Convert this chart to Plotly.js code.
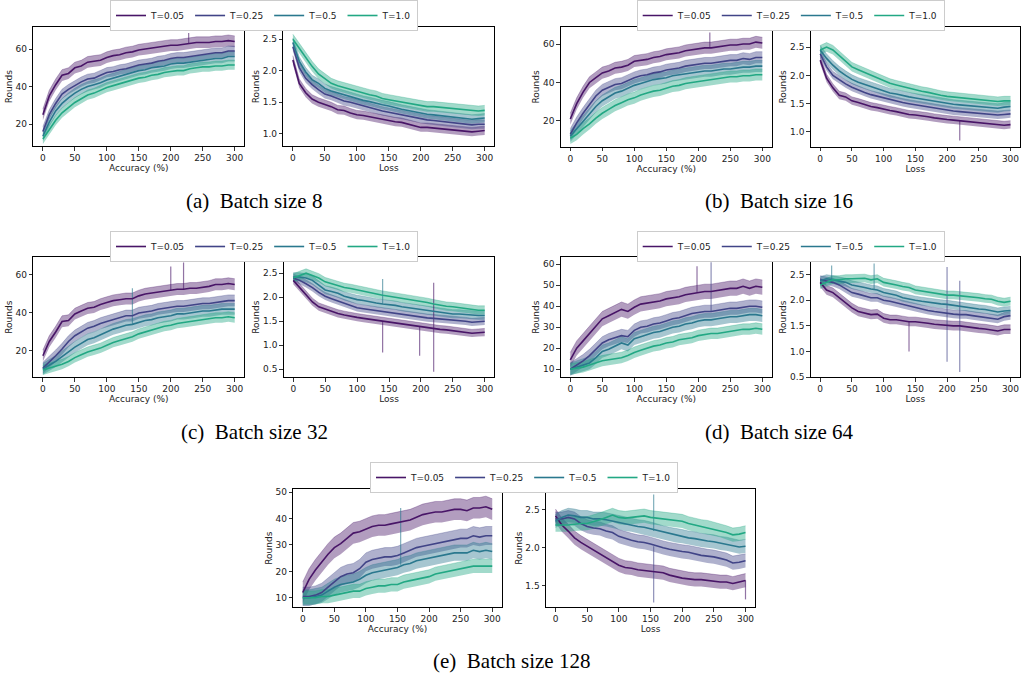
<!DOCTYPE html>
<html><head><meta charset="utf-8">
<script src="https://cdn.plot.ly/plotly-3.0.1.min.js"></script>
<style>html,body{margin:0;padding:0;background:#fff}#chart{width:1021px;height:676px}</style>
</head><body><div id="chart"></div>
<script>
const rounds = [0,10,20,30,40,50,60,70,80,90,100,110,120,130,140,150,160,170,180,190,200,210,220,230,240,250,260,270,280,290,300];
const seriesNames = ['T=0.05','T=0.25','T=0.5','T=1.0'];
const seriesColors = ['#481567','#414487','#2A788E','#22A884'];
const captions = ['(a)\u00a0 Batch size 8','(b)\u00a0 Batch size 16','(c)\u00a0 Batch size 32','(d)\u00a0 Batch size 64','(e)\u00a0 Batch size 128'];
const xTitleLeft = 'Accuracy (%)';
const xTitleRight = 'Loss';
const yTitle = 'Rounds';

// ---- Batch size 8 ----
const acc8 = [
 [25,35,41,46,47,50,51,53,53.5,54,55.5,56.5,57,58,58.5,59.5,60,60.5,61,61.5,62,62,62.5,63,63.5,63.5,63.5,64,64,64.5,64],
 [16,25,31,36,38.5,40.5,42.5,44,44.5,46,47.5,48,49,49.5,50.5,51.5,52,52.5,53.5,54,55,55.5,55.5,56,56.5,57,57.5,58,58,59,59],
 [13.5,21,27,31,34,36.5,38.5,40,41,42,43.5,44.5,45.5,46.5,47.5,48.5,49,50,50.5,51,52,52.5,52.5,53,53.5,54,54.5,55,55,56,56],
 [12,17,22,26,29,31.5,33.5,35.5,36.5,38,39.5,40.5,41.5,42.5,43.5,44.5,45,46,46.5,47.5,48,48.5,48.5,49.5,50,50.5,50.5,51,51,51.5,51.5]];
const acc8Spread = [3, 2.6, 2.6, 2.6];
const acc8Spikes = [[228,68.5,0]];
const loss8 = [
 [2.17,1.80,1.65,1.55,1.50,1.47,1.43,1.38,1.37,1.33,1.30,1.29,1.27,1.25,1.22,1.20,1.19,1.18,1.15,1.13,1.10,1.10,1.09,1.08,1.07,1.06,1.06,1.05,1.03,1.04,1.05],
 [2.38,2.05,1.88,1.78,1.70,1.63,1.60,1.56,1.52,1.50,1.47,1.44,1.42,1.39,1.36,1.34,1.32,1.30,1.28,1.25,1.23,1.22,1.21,1.20,1.19,1.18,1.17,1.16,1.14,1.15,1.15],
 [2.45,2.15,1.98,1.86,1.80,1.72,1.68,1.65,1.61,1.59,1.55,1.53,1.51,1.48,1.46,1.44,1.41,1.39,1.37,1.35,1.32,1.31,1.30,1.29,1.28,1.27,1.26,1.25,1.23,1.24,1.25],
 [2.50,2.35,2.20,2.07,1.95,1.87,1.80,1.76,1.73,1.71,1.68,1.65,1.62,1.60,1.56,1.54,1.52,1.50,1.48,1.46,1.44,1.43,1.43,1.42,1.41,1.40,1.39,1.38,1.37,1.36,1.37]];
const loss8Spread = [0.07, 0.07, 0.07, 0.08];
const loss8Spikes = [];

// ---- Batch size 16 ----
const acc16 = [
 [21,29,35,40,42.5,45,46,47.5,48,49,51,51.5,52,53,53.5,54.5,55,55.5,56.5,57,57.5,58,58,58.5,59,59.5,59.5,60,60,61,60.5],
 [13,19,24,28.5,33,36,37.5,39,39.5,41,42.5,43.5,44,45,45.5,46.5,47,47.5,48.5,49,49.5,50,50,50.5,51,51.5,51.5,52.5,52,53,53],
 [12,16,20,24,27.5,30.5,32.5,34.5,35.5,37,38.5,39.5,40.5,41.5,42,42.5,43.5,44,44.5,45,45.5,46,46,46.5,47,47,47.5,48,48,48.5,48.5],
 [11,13,16,18.5,21.5,24,26,28,29.5,31,32,33.5,34.5,35.5,36,37,38,38.5,39.5,40,40.5,41,41.5,42,42.5,43,43,43.5,43.5,44,44]];
const acc16Spread = [3, 3, 3, 3];
const acc16Spikes = [[218,66,0]];
const loss16 = [
 [2.27,1.95,1.78,1.65,1.62,1.55,1.52,1.48,1.45,1.43,1.40,1.38,1.36,1.33,1.31,1.30,1.29,1.27,1.25,1.23,1.22,1.21,1.20,1.19,1.18,1.17,1.16,1.15,1.13,1.12,1.13],
 [2.38,2.15,2.00,1.92,1.85,1.79,1.74,1.70,1.66,1.63,1.60,1.57,1.55,1.52,1.50,1.48,1.46,1.44,1.42,1.40,1.38,1.37,1.36,1.35,1.34,1.33,1.33,1.32,1.30,1.31,1.32],
 [2.45,2.30,2.18,2.08,2.00,1.93,1.88,1.84,1.80,1.76,1.72,1.69,1.67,1.64,1.62,1.60,1.58,1.56,1.54,1.52,1.50,1.49,1.48,1.47,1.46,1.45,1.45,1.44,1.42,1.44,1.45],
 [2.45,2.50,2.45,2.35,2.25,2.15,2.10,2.05,2.00,1.95,1.90,1.86,1.83,1.80,1.77,1.75,1.72,1.70,1.67,1.65,1.63,1.62,1.61,1.60,1.59,1.58,1.57,1.56,1.54,1.55,1.55]];
const loss16Spread = [0.07, 0.07, 0.08, 0.08];
const loss16Spikes = [[220,0.85,0]];

// ---- Batch size 32 ----
const acc32 = [
 [17.5,25,30,35.5,36,39.5,41,42.5,43,44.5,45.5,46.5,47,47.5,47.5,49,50,50.5,51,51.5,52,52.5,52.5,53,53,53.5,54,55,55,55.5,55],
 [11,14,17.5,21,25,28,30,32,33,34.5,35.5,36.5,37.5,38.5,38.5,40,40.5,41,42,42.5,43,43.5,43.5,44,44.5,45,45,45.5,46,46.5,46.5],
 [10.5,12.5,14.5,17,19.5,22,24,26,27,28.5,30,31.5,32.5,33.5,34,35,36,36.5,37.5,38,38.5,39.5,39.5,40,40.5,41,41,41.5,42,42,42],
 [10,11,12,13,14.5,16.5,18,19.5,20.5,21.5,23,24.5,25.5,26.5,27.5,29,30,31,32,33,33.5,34.5,35,35.5,36,36.5,37,37.5,37.5,38,37.5]];
const acc32Spread = [3, 3, 3, 2.6];
const acc32Spikes = [[200,64.5,0],[220,66.5,0],[140,53,2]];
const loss32 = [
 [2.35,2.20,2.05,1.90,1.80,1.75,1.70,1.66,1.63,1.60,1.58,1.56,1.54,1.52,1.50,1.48,1.47,1.45,1.43,1.41,1.38,1.37,1.35,1.33,1.32,1.30,1.29,1.27,1.25,1.26,1.27],
 [2.40,2.35,2.28,2.20,2.10,2.02,1.97,1.92,1.88,1.82,1.78,1.76,1.74,1.72,1.70,1.68,1.66,1.64,1.62,1.60,1.58,1.57,1.56,1.55,1.53,1.52,1.51,1.50,1.48,1.49,1.50],
 [2.42,2.42,2.40,2.35,2.25,2.15,2.12,2.08,2.02,1.98,1.95,1.93,1.90,1.88,1.86,1.85,1.83,1.80,1.78,1.77,1.75,1.73,1.70,1.68,1.66,1.65,1.65,1.64,1.62,1.62,1.62],
 [2.40,2.45,2.50,2.45,2.40,2.32,2.28,2.25,2.20,2.18,2.15,2.12,2.09,2.06,2.04,2.02,2.00,1.98,1.96,1.94,1.92,1.89,1.86,1.83,1.81,1.80,1.78,1.76,1.74,1.73,1.73]];
const loss32Spread = [0.08, 0.08, 0.09, 0.09];
const loss32Spikes = [[140,2.38,2],[140,0.85,0],[198,0.78,0],[220,0.45,0],[220,2.3,0]];

// ---- Batch size 64 ----
const acc64 = [
 [14.5,20,23.5,27,31,34,35.5,37,38.5,37.5,39.5,41,41.5,42,42.5,43.5,44,44.5,45.5,46,46.5,47,47,47.5,48,48.5,48.5,49.5,48.5,49.5,49],
 [10,12,14,16.5,19.5,22.5,24,25,26,25.5,28.5,30,30.5,31.5,32,33,34,34.5,35.5,36.5,37,37.5,37.5,38,38.5,39,39,39.5,40,40,39.5],
 [10,11,12,13,15.5,18.5,19.5,21,22.5,21.5,24.5,25.5,26.5,27.5,28,29,30,30.5,31.5,32,33,33.5,33.5,34,34.5,35,35,35.5,36,36,35.5],
 [10,10.5,11,12,13,14,14.5,15,15.5,16.5,18,19,20,21,21.5,22.5,23,24,24.5,25,26,26.5,27,27,27.5,28,28.5,29,29,29.5,29]];
const acc64Spread = [3.5, 3, 3, 2.6];
const acc64Spikes = [[198,59,0],[220,61,1]];
const loss64 = [
 [2.35,2.20,2.15,2.05,1.95,1.85,1.78,1.75,1.72,1.73,1.65,1.62,1.62,1.60,1.58,1.58,1.57,1.55,1.53,1.52,1.50,1.50,1.50,1.48,1.47,1.45,1.44,1.42,1.40,1.43,1.43],
 [2.40,2.38,2.35,2.30,2.22,2.15,2.12,2.08,2.05,2.05,2.00,1.98,1.95,1.92,1.88,1.85,1.83,1.80,1.78,1.76,1.75,1.73,1.72,1.72,1.70,1.68,1.67,1.65,1.63,1.68,1.70],
 [2.38,2.42,2.40,2.38,2.35,2.30,2.28,2.25,2.22,2.20,2.15,2.12,2.10,2.05,2.02,2.00,1.98,1.96,1.94,1.93,1.92,1.90,1.88,1.86,1.85,1.83,1.82,1.80,1.77,1.79,1.80],
 [2.30,2.35,2.40,2.40,2.42,2.42,2.42,2.43,2.40,2.42,2.35,2.33,2.30,2.27,2.25,2.20,2.18,2.17,2.15,2.12,2.10,2.10,2.09,2.07,2.06,2.05,2.03,2.02,1.98,1.96,1.98]];
const loss64Spread = [0.09, 0.08, 0.08, 0.08];
const loss64Spikes = [[200,0.8,1],[200,2.65,1],[220,0.6,1],[220,2.38,1],[140,1.0,0],[85,2.72,2],[18,2.68,2]];

// ---- Batch size 128 ----
const acc128 = [
 [12,17,20.5,23.5,26.5,29,30.5,32.5,34.5,35,36,37,37.5,37.5,38,38.5,39,39.5,40.5,41.5,42,42.5,42.5,43,43.5,43.5,43,44,44,44.5,43.5],
 [10.5,10.5,11,12,14,16,18,19,19.5,21,23.5,24.5,25,25.5,25.5,26,27,28,29,29.5,30,30.5,31,31.5,32,32.5,32.5,33.5,33,33.5,33.5],
 [10,10,10.5,11,12.5,14,15,15.5,16,17,18.5,19.5,20,20.5,21,21.5,22.5,23,24,24.5,25,25.5,26,26.5,27,27,27,28,27.5,28,27.5],
 [10,10,10,10.5,10.5,11,11.5,12,12.5,12.5,13.5,14,14.5,14.5,15,15,16,16.5,17,17.5,18,19,19.5,20,20.5,21,21.5,22,22,22,22]];
const acc128Spread = [4, 3.5, 3, 2.6];
const acc128Spikes = [[155,44,2]];
const loss128 = [
 [2.42,2.30,2.22,2.13,2.07,2.02,1.97,1.93,1.87,1.83,1.77,1.74,1.73,1.71,1.70,1.69,1.68,1.67,1.64,1.62,1.60,1.59,1.58,1.58,1.57,1.56,1.55,1.55,1.53,1.55,1.57],
 [2.38,2.38,2.40,2.38,2.32,2.28,2.26,2.25,2.22,2.20,2.15,2.12,2.10,2.08,2.07,2.05,2.02,2.00,1.98,1.96,1.95,1.94,1.92,1.90,1.89,1.88,1.86,1.84,1.80,1.81,1.83],
 [2.35,2.40,2.43,2.42,2.40,2.40,2.38,2.38,2.37,2.35,2.33,2.31,2.30,2.28,2.27,2.25,2.22,2.20,2.18,2.16,2.15,2.13,2.12,2.10,2.09,2.08,2.06,2.05,2.03,2.01,2.02],
 [2.30,2.30,2.30,2.31,2.32,2.32,2.34,2.37,2.40,2.43,2.40,2.39,2.40,2.41,2.42,2.40,2.39,2.38,2.37,2.36,2.35,2.32,2.30,2.28,2.27,2.25,2.23,2.20,2.17,2.18,2.20]];
const loss128Spread = [0.09, 0.09, 0.09, 0.09];
const loss128Spikes = [[155,1.28,1],[155,2.7,2],[300,1.32,0]];

// ---------- layout geometry (pixels) ----------
const W = 1021, H = 676;
const panels = [
 {data: acc8,   spread: acc8Spread,   spikes: acc8Spikes,   box:[33.3,244.3,27.3,146],   yr:[8.3,71.6],  dt:20,  fmt:'',    xt:xTitleLeft,  leg:'legend'},
 {data: loss8,  spread: loss8Spread,  spikes: loss8Spikes,  box:[283.3,494.3,27.3,146],  yr:[0.805,2.69],dt:0.5, fmt:'.1f', xt:xTitleRight, leg:null},
 {data: acc16,  spread: acc16Spread,  spikes: acc16Spikes,  box:[560.7,771.9,27.3,146.7], yr:[6.6,68.7],  dt:20,  fmt:'',    xt:xTitleLeft,  leg:'legend2'},
 {data: loss16, spread: loss16Spread, spikes: loss16Spikes, box:[810.7,1020,27.3,146.7],  yr:[0.74,2.85], dt:0.5, fmt:'.1f', xt:xTitleRight, leg:null},
 {data: acc32,  spread: acc32Spread,  spikes: acc32Spikes,  box:[33.3,244.3,257.3,377],   yr:[6.3,69.3],  dt:20,  fmt:'',    xt:xTitleLeft,  leg:'legend3'},
 {data: loss32, spread: loss32Spread, spikes: loss32Spikes, box:[283.7,494.3,257.3,377],  yr:[0.34,2.83], dt:0.5, fmt:'.1f', xt:xTitleRight, leg:null},
 {data: acc64,  spread: acc64Spread,  spikes: acc64Spikes,  box:[560.7,771.9,257.3,377],  yr:[6.3,63.3],  dt:10,  fmt:'',    xt:xTitleLeft,  leg:'legend4'},
 {data: loss64, spread: loss64Spread, spikes: loss64Spikes, box:[810.7,1020,257.3,377],   yr:[0.5,2.84],  dt:0.5, fmt:'.1f', xt:xTitleRight, leg:null},
 {data: acc128, spread: acc128Spread, spikes: acc128Spikes, box:[293.3,501.7,489.3,607],  yr:[6.5,51.1],  dt:10,  fmt:'',    xt:xTitleLeft,  leg:'legend5'},
 {data: loss128,spread: loss128Spread,spikes: loss128Spikes,box:[546,755,489.3,607],      yr:[1.22,2.77], dt:0.5, fmt:'.1f', xt:xTitleRight, leg:null}
];
const legendPos = [[110,0],[636.7,0],[110,231],[636.7,231],[370,462]];
const captionPos = [[254,201],[779,201],[254,432],[779,432],[511,661]];

function rgba(hex, a){
  const n = parseInt(hex.slice(1),16);
  return 'rgba(' + ((n>>16)&255) + ',' + ((n>>8)&255) + ',' + (n&255) + ',' + a + ')';
}

const traces = [];
const layout = {
  width: W, height: H, margin:{l:0,r:0,t:0,b:0},
  paper_bgcolor:'#fff', plot_bgcolor:'#fff',
  font:{family:'DejaVu Sans', size:9, color:'#222'},
  annotations: [], showlegend: true
};
const tickFont = {family:'DejaVu Sans', size:9, color:'#222'};

panels.forEach((p, k) => {
  const sfx = k === 0 ? '' : String(k+1);
  const xa = 'x' + sfx, ya = 'y' + sfx;
  const [x0,x1,y0,y1] = p.box;
  layout['xaxis' + sfx] = {
    domain:[x0/W, x1/W], anchor: ya, range:[-15,315], tick0:0, dtick:50,
    showline:true, linecolor:'#000', linewidth:1, mirror:true,
    ticks:'outside', ticklen:3.5, tickwidth:0.8, tickcolor:'#000',
    showgrid:false, zeroline:false, tickfont:tickFont,
    title:{text:p.xt, font:{family:'DejaVu Sans', size:9, color:'#222'}, standoff:0}
  };
  layout['yaxis' + sfx] = {
    domain:[1 - y1/H, 1 - y0/H], anchor: xa, range:p.yr, dtick:p.dt, tickformat:p.fmt,
    showline:true, linecolor:'#000', linewidth:1, mirror:true,
    ticks:'outside', ticklen:3.5, tickwidth:0.8, tickcolor:'#000',
    showgrid:false, zeroline:false, tickfont:tickFont,
    title:{text:yTitle, font:{family:'DejaVu Sans', size:9, color:'#222'}, standoff:1}
  };
  // bands
  p.data.forEach((vals, s) => {
    const w = p.spread[s];
    const hi = vals.map(v => v + w), lo = vals.map(v => v - w);
    traces.push({x:rounds, y:lo, xaxis:xa, yaxis:ya, mode:'lines', line:{width:0, color:rgba(seriesColors[s],0)}, showlegend:false, hoverinfo:'skip'});
    traces.push({x:rounds, y:hi, xaxis:xa, yaxis:ya, mode:'lines', fill:'tonexty', fillcolor:rgba(seriesColors[s],0.42), line:{width:0.6, color:rgba(seriesColors[s],0.5)}, showlegend:false, hoverinfo:'skip'});
  });
  // spikes of raw series
  p.spikes.forEach(sp => {
    const [sx, sy, s] = sp;
    const base = p.data[s][Math.round(sx/10)];
    traces.push({x:[sx,sx], y:[base, sy], xaxis:xa, yaxis:ya, mode:'lines', line:{width:1.2, color:rgba(seriesColors[s],0.6)}, showlegend:false, hoverinfo:'skip'});
  });
  // mean lines
  p.data.forEach((vals, s) => {
    const t = {x:rounds, y:vals, xaxis:xa, yaxis:ya, mode:'lines', name:seriesNames[s],
      line:{width:1.6, color:seriesColors[s]}, showlegend: !!p.leg};
    if (p.leg) t.legend = p.leg;
    traces.push(t);
  });
});

legendPos.forEach((pos, i) => {
  const key = i === 0 ? 'legend' : 'legend' + (i+1);
  layout[key] = {
    orientation:'h', x:pos[0]/W, y:1 - pos[1]/H, xanchor:'left', yanchor:'top',
    bgcolor:'#fff', bordercolor:'#cccccc', borderwidth:1, traceorder:'normal',
    font:{family:'DejaVu Sans', size:9, color:'#222'}, itemwidth:30, tracegroupgap:0
  };
});

captionPos.forEach((pos, i) => {
  layout.annotations.push({text:captions[i], xref:'paper', yref:'paper', x:pos[0]/W, y:1 - pos[1]/H,
    xanchor:'center', yanchor:'middle', showarrow:false,
    font:{family:'Liberation Serif', size:21, color:'#000'}});
});

Plotly.newPlot('chart', traces, layout, {staticPlot:true, displayModeBar:false});
</script></body></html>
